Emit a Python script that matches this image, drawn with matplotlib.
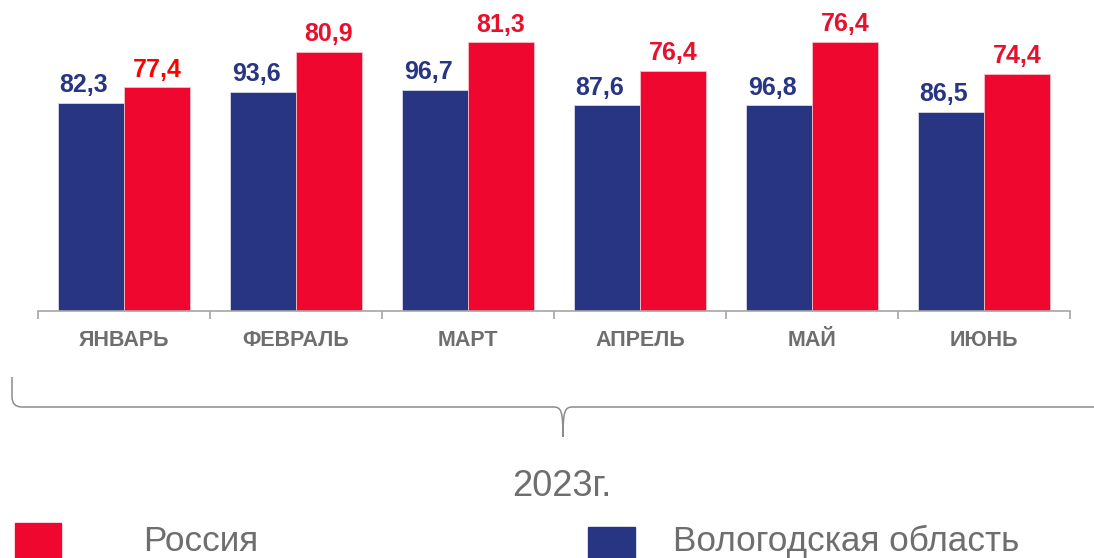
import matplotlib
matplotlib.use('Agg')
import matplotlib.pyplot as plt
from matplotlib.path import Path
from matplotlib.patches import PathPatch, Rectangle
import numpy as np

months = ['ЯНВАРЬ', 'ФЕВРАЛЬ', 'МАРТ', 'АПРЕЛЬ', 'МАЙ', 'ИЮНЬ']
vologda_labels = ['82,3', '93,6', '96,7', '87,6', '96,8', '86,5']
russia_labels = ['77,4', '80,9', '81,3', '76,4', '76,4', '74,4']
# bar heights as drawn in the source picture (% of plot height)
vologda_bars = [67.0, 70.5, 71.1, 66.1, 66.1, 64.1]
russia_bars = [72.0, 83.3, 86.4, 77.2, 86.5, 76.3]
russia_label_colors = ['#ff0000', '#e8112d', '#e8112d', '#e8112d', '#e8112d', '#e8112d']

BLUE = '#283583'
RED = '#f0072f'
GRAY = '#6e6e6e'
plt.rcParams['font.family'] = ['Liberation Sans', 'DejaVu Sans']

fig = plt.figure(figsize=(10.94, 5.58), dpi=100)
ax = fig.add_axes([38 / 1094, 1 - 311 / 558, 1032 / 1094, 311 / 558])

x = np.arange(len(months))
w = 66 / 172
b1 = ax.bar(x - w / 2, vologda_bars, w, color=BLUE, edgecolor='#d8d8e8', linewidth=0.6)
b2 = ax.bar(x + w / 2, russia_bars, w, color=RED, edgecolor='#f4c0c8', linewidth=0.6)

for rect, lab in zip(b1, vologda_labels):
    ax.annotate(lab, (rect.get_x() + rect.get_width() / 2, rect.get_height()),
                xytext=(-5, 4), textcoords='offset points', ha='center', va='bottom',
                fontsize=18, fontweight='bold', color=BLUE)
for rect, lab, c in zip(b2, russia_labels, russia_label_colors):
    ax.annotate(lab, (rect.get_x() + rect.get_width() / 2, rect.get_height()),
                xytext=(0, 4), textcoords='offset points', ha='center', va='bottom',
                fontsize=18, fontweight='bold', color=c)

ax.set_xlim(-0.5, len(months) - 0.5)
ax.set_ylim(0, 100)
for s in ['top', 'right', 'left']:
    ax.spines[s].set_visible(False)
ax.spines['bottom'].set_color('#a6a6a6')
ax.spines['bottom'].set_linewidth(1.2)
ax.set_yticks([])
ax.set_xticks(np.arange(-0.5, len(months)), labels=[''] * (len(months) + 1))
ax.tick_params(axis='x', which='major', length=6, color='#a6a6a6', width=1.2)
ax.set_xticks(x, labels=months, minor=True)
ax.tick_params(axis='x', which='minor', length=0, pad=14, labelsize=15.5, labelcolor=GRAY)
for t in ax.get_xticklabels(minor=True):
    t.set_fontweight('bold')

# overlay for brace, year and legend (pixel coordinates)
ov = fig.add_axes([0, 0, 1, 1])
ov.set_xlim(0, 1094)
ov.set_ylim(558, 0)
ov.axis('off')

verts = [(12, 377), (12, 397), (12, 407), (22, 407),
         (553, 407),
         (561, 407), (563, 410), (563, 437),
         (563, 410), (565, 407), (573, 407),
         (1094, 407)]
codes = [Path.MOVETO, Path.LINETO, Path.CURVE3, Path.CURVE3,
         Path.LINETO,
         Path.CURVE4, Path.CURVE4, Path.CURVE4,
         Path.CURVE4, Path.CURVE4, Path.CURVE4,
         Path.LINETO]
ov.add_patch(PathPatch(Path(verts, codes), facecolor='none', edgecolor='#8c8c8c', lw=1.1))

ov.text(562, 487, '2023г.', ha='center', va='center', fontsize=26, color=GRAY)

ov.add_patch(Rectangle((15, 523), 46, 40, color=RED, clip_on=False))
ov.add_patch(Rectangle((588, 527), 47, 36, color=BLUE, clip_on=False))
ov.text(143, 551, 'Россия', ha='left', va='baseline', fontsize=25.3, color=GRAY)
ov.text(673, 551, 'Вологодская область', ha='left', va='baseline', fontsize=25.3, color=GRAY)

fig.savefig('out.png', dpi=100)
